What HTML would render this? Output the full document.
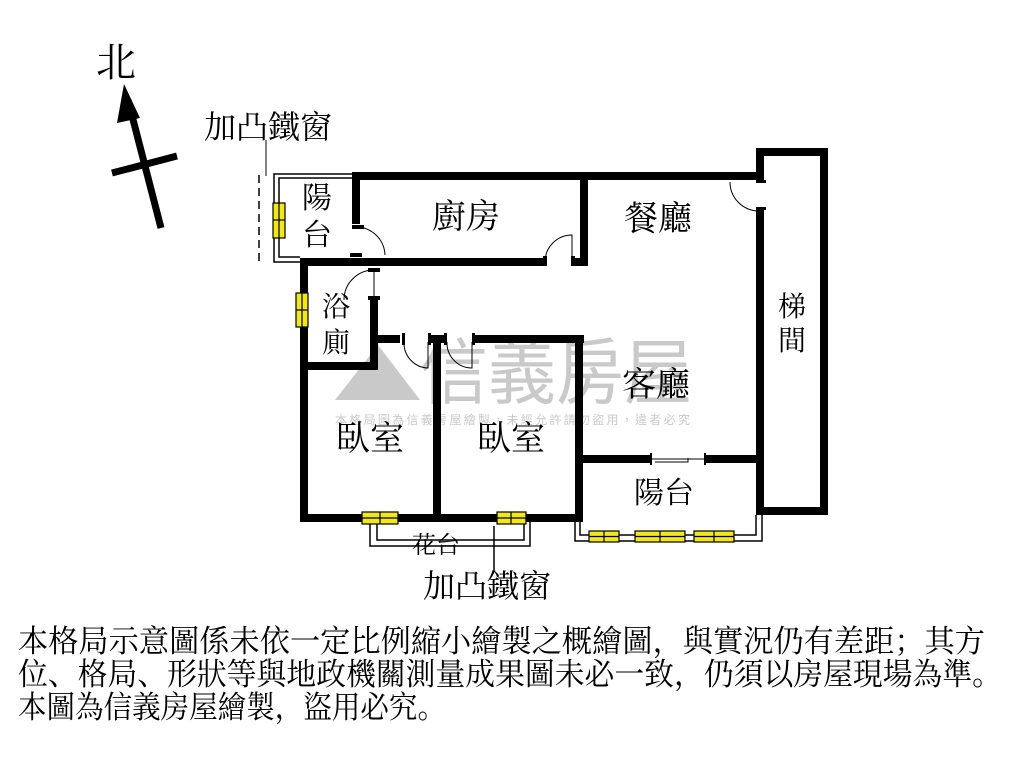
<!DOCTYPE html>
<html><head><meta charset="utf-8"><style>
html,body{margin:0;padding:0;background:#fff;}
svg{display:block;}
text{font-family:"Liberation Serif","Noto Serif CJK SC","Noto Sans CJK TC",serif;fill:#000;}
</style></head><body>
<svg width="1024" height="768" viewBox="0 0 1024 768" xmlns="http://www.w3.org/2000/svg">
<!-- watermark -->
<g opacity="0.45">
<polygon points="335,400 378,345 420,400" fill="#888"/>
<text x="420" y="398" font-size="72" style="font-family:'Noto Sans CJK TC',sans-serif;fill:#888" textLength="272" lengthAdjust="spacingAndGlyphs">信義房屋</text>
<text x="335" y="424" font-size="12" style="font-family:'Noto Sans CJK TC',sans-serif;fill:#888" textLength="355">本格局圖為信義房屋繪製，未經允許請勿盜用，違者必究</text>
</g>
<!-- north arrow -->
<text x="96" y="76" font-size="40">北</text>
<line x1="161" y1="228" x2="128" y2="100" stroke="#000" stroke-width="7"/>
<polygon points="124,84 140,118 117,123" fill="#000"/>
<line x1="112" y1="173" x2="177" y2="156" stroke="#000" stroke-width="7"/>
<text x="204" y="138" font-size="32">加凸鐵窗</text>
<line x1="266" y1="140" x2="266" y2="176" stroke="#000" stroke-width="1"/>
<!-- small balcony thin lines -->
<path d="M352,174 H274 V262 H300 M352,178 H279 V257 H300" fill="none" stroke="#000" stroke-width="1.5"/>
<line x1="259" y1="175" x2="259" y2="264" stroke="#000" stroke-width="1.5" stroke-dasharray="8,5"/>
<!-- walls -->
<g fill="#000">
<rect x="352" y="172" width="412" height="8"/>
<rect x="352" y="172" width="8" height="52"/>
<rect x="580" y="172" width="8" height="94"/>
<rect x="300" y="258" width="246" height="8"/>
<rect x="574" y="258" width="14" height="8"/>
<rect x="300" y="258" width="8" height="264"/>
<rect x="370" y="300" width="8" height="70"/>
<rect x="300" y="362" width="78" height="8"/>
<rect x="370" y="335" width="30" height="8"/>
<rect x="430" y="335" width="14" height="8"/>
<rect x="474" y="335" width="110" height="8"/>
<rect x="433" y="335" width="8" height="187"/>
<rect x="575" y="335" width="8" height="187"/>
<rect x="300" y="514" width="283" height="8"/>
<rect x="583" y="455" width="67" height="8"/>
<rect x="705" y="455" width="55" height="8"/>
<rect x="756" y="148" width="8" height="32"/>
<rect x="756" y="210" width="8" height="305"/>
<rect x="756" y="148" width="72" height="8"/>
<rect x="820" y="148" width="8" height="367"/>
<rect x="756" y="507" width="72" height="8"/>
</g>
<!-- doors -->
<g fill="none" stroke="#000" stroke-width="1">
<path d="M356,227 A29,29 0 0 1 385,255"/>
<path d="M545,262 A27,27 0 0 1 572,235 V262"/>
<path d="M374,270 A30,30 0 0 0 344,300 M374,270 V300"/>
<path d="M404,342 A25,25 0 0 0 428,368 V342"/>
<path d="M447,342 A25,25 0 0 0 472,368 V342"/>
<path d="M730,182 A29,29 0 0 0 759,211"/>
<path d="M652,459 H705 M655,462 H688 V458"/>
</g>
<g fill="#000">
<rect x="350" y="253" width="12" height="4"/><rect x="352" y="225" width="12" height="4"/>
<rect x="543" y="256" width="4" height="10"/><rect x="571" y="256" width="4" height="10"/>
<rect x="368" y="268" width="12" height="4"/><rect x="368" y="296" width="12" height="4"/>
<rect x="402" y="333" width="3" height="12"/><rect x="428" y="333" width="3" height="12"/>
<rect x="444" y="333" width="3" height="12"/><rect x="472" y="333" width="3" height="12"/>
<rect x="756" y="180" width="10" height="3"/><rect x="756" y="207" width="10" height="3"/>
<rect x="650" y="453" width="2" height="12"/><rect x="704" y="453" width="2" height="12"/>
</g>
<!-- 花台 / balcony thin lines -->
<path d="M370,522 V546 H530 V522 M377,522 V540 H524 V522" fill="none" stroke="#000" stroke-width="1.5"/>
<path d="M575,522 V541 H762 V515 M580,522 V535 H756 V515" fill="none" stroke="#000" stroke-width="1.5"/>
<line x1="494" y1="526" x2="494" y2="572" stroke="#000" stroke-width="1.5"/>
<!-- windows -->
<g fill="#f0e81c" stroke="#000" stroke-width="1.2">
<rect x="273" y="203" width="12" height="35"/><line x1="279" y1="203" x2="279" y2="238"/><line x1="273" y1="220" x2="285" y2="220"/>
<rect x="296" y="293" width="12" height="34"/><line x1="302" y1="293" x2="302" y2="327"/><line x1="296" y1="310" x2="308" y2="310"/>
<rect x="362" y="512" width="36" height="12"/><line x1="362" y1="518" x2="398" y2="518"/><line x1="380" y1="512" x2="380" y2="524"/>
<rect x="497" y="512" width="29" height="12"/><line x1="497" y1="518" x2="526" y2="518"/><line x1="511" y1="512" x2="511" y2="524"/>
<rect x="589" y="531" width="30" height="11"/><line x1="589" y1="536.5" x2="619" y2="536.5"/><line x1="604" y1="531" x2="604" y2="542"/>
<rect x="635" y="531" width="50" height="11"/><line x1="635" y1="536.5" x2="685" y2="536.5"/><line x1="660" y1="531" x2="660" y2="542"/>
<rect x="694" y="531" width="40" height="11"/><line x1="694" y1="536.5" x2="734" y2="536.5"/><line x1="714" y1="531" x2="714" y2="542"/>
</g>
<!-- labels -->
<text x="302" y="208" font-size="30">陽</text>
<text x="302" y="245" font-size="30">台</text>
<text x="432" y="228" font-size="34">廚房</text>
<text x="624" y="230" font-size="34">餐廳</text>
<text x="778" y="316" font-size="28">梯</text>
<text x="778" y="350" font-size="28">間</text>
<text x="322" y="316" font-size="28">浴</text>
<text x="322" y="352" font-size="28">廁</text>
<text x="622" y="396" font-size="34">客廳</text>
<text x="336" y="450" font-size="34">臥室</text>
<text x="477" y="450" font-size="34">臥室</text>
<text x="634" y="503" font-size="30">陽台</text>
<text x="412" y="553" font-size="24">花台</text>
<text x="423" y="597" font-size="32">加凸鐵窗</text>
<text x="18" y="652" font-size="31" textLength="967" lengthAdjust="spacingAndGlyphs">本格局示意圖係未依一定比例縮小繪製之概繪圖，與實況仍有差距；其方</text>
<text x="18" y="685" font-size="31" textLength="984" lengthAdjust="spacingAndGlyphs">位、格局、形狀等與地政機關測量成果圖未必一致，仍須以房屋現場為準。</text>
<text x="18" y="718" font-size="31" textLength="428" lengthAdjust="spacingAndGlyphs">本圖為信義房屋繪製，盜用必究。</text>
</svg>
</body></html>
